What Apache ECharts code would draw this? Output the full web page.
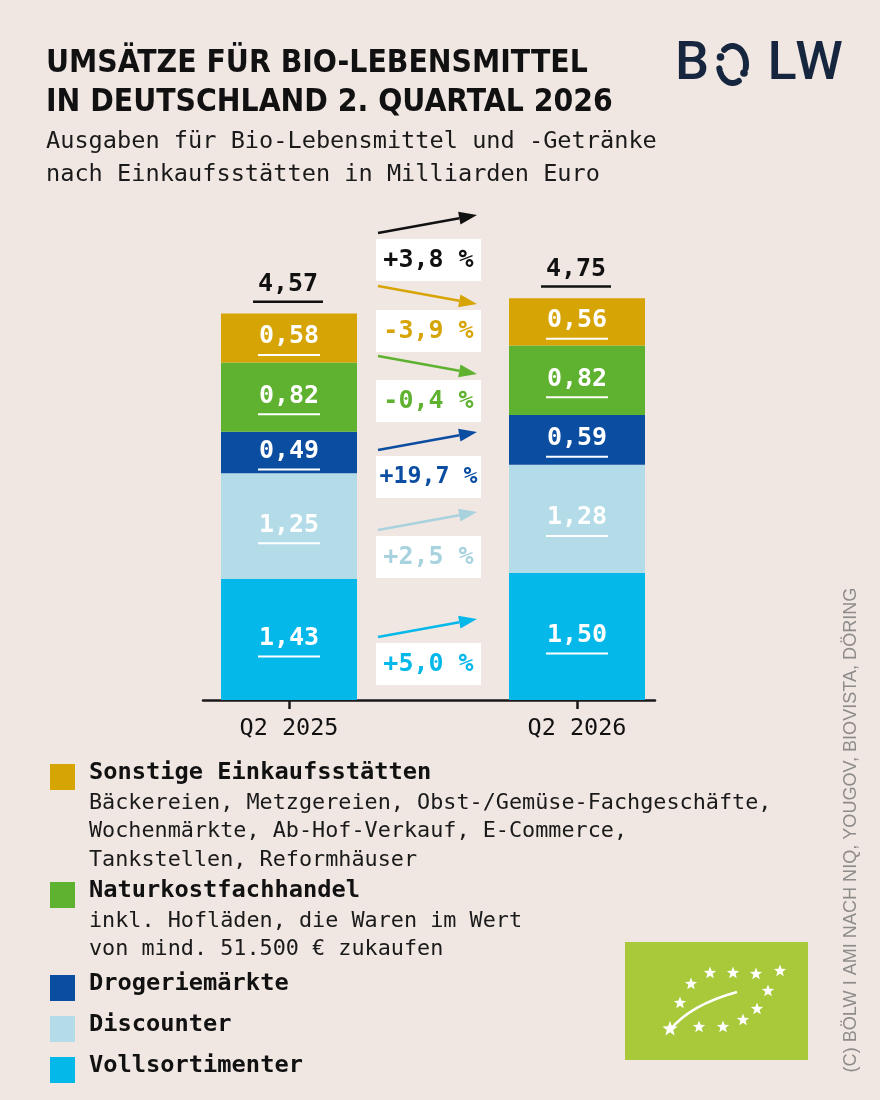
<!DOCTYPE html>
<html><head><meta charset="utf-8">
<script src="https://cdn.jsdelivr.net/npm/echarts@6/dist/echarts.min.js"></script>
<style>html,body{margin:0;padding:0;background:#F0E7E3;}#c{width:880px;height:1100px;}</style>
</head><body><div id="c"></div>
<script>
// ---------------- DATA ----------------
const categories = ['Q2 2025', 'Q2 2026'];
const seriesNames = ['Vollsortimenter', 'Discounter', 'Drogeriemärkte', 'Naturkostfachhandel', 'Sonstige Einkaufsstätten'];
const vollsortimenter = [1.43, 1.50];
const discounter = [1.25, 1.28];
const drogeriemaerkte = [0.49, 0.59];
const naturkostfachhandel = [0.82, 0.82];
const sonstige = [0.58, 0.56];
const totals = [4.57, 4.75];
// change labels: total, Sonstige, Naturkost, Drogerie, Discounter, Vollsortimenter
const changeValues = [3.8, -3.9, -0.4, 19.7, 2.5, 5.0];
const changeLabels = ['+3,8 %', '-3,9 %', '-0,4 %', '+19,7 %', '+2,5 %', '+5,0 %'];
const legendHeadings = ['Sonstige Einkaufsstätten', 'Naturkostfachhandel', 'Drogeriemärkte', 'Discounter', 'Vollsortimenter'];
const legendDescriptions = [
  ['Bäckereien, Metzgereien, Obst-/Gemüse-Fachgeschäfte,', 'Wochenmärkte, Ab-Hof-Verkauf, E-Commerce,', 'Tankstellen, Reformhäuser'],
  ['inkl. Hofläden, die Waren im Wert', 'von mind. 51.500 € zukaufen'],
  [], [], []
];
const titleLines = ['UMSÄTZE FÜR BIO-LEBENSMITTEL', 'IN DEUTSCHLAND 2. QUARTAL 2026'];
const subtitleLines = ['Ausgaben für Bio-Lebensmittel und -Getränke', 'nach Einkaufsstätten in Milliarden Euro'];
const creditText = '(C) BÖLW I AMI NACH NIQ, YOUGOV, BIOVISTA, DÖRING';

// ---------------- STYLE ----------------
const BG = '#F0E7E3';
const C = { voll: '#05B8EA', disc: '#B3DCE8', drog: '#0B4DA0', natur: '#5EB22F', sonst: '#D7A405' };
const seriesColors = [C.voll, C.disc, C.drog, C.natur, C.sonst];
const changeColors = ['#111111', C.sonst, C.natur, C.drog, '#A8D2DE', C.voll];
const legendColors = [C.sonst, C.natur, C.drog, C.disc, C.voll];
const MONO = '"DejaVu Sans Mono", "Liberation Mono", monospace';
const fmt = v => v.toFixed(2).replace('.', ',');

const canvas = document.createElement('canvas');
const ctx = canvas.getContext('2d');
function fitSize(text, weight, family, target) {
  ctx.font = weight + ' 100px ' + family;
  return 100 * target / ctx.measureText(text).width;
}

const seriesData = [vollsortimenter, discounter, drogeriemaerkte, naturkostfachhandel, sonstige];

// segment label positions (centers of stacked segments)
const segLabels = [];
for (let i = 0; i < categories.length; i++) {
  let base = 0;
  for (let s = 0; s < seriesData.length; s++) {
    const v = seriesData[s][i];
    segLabels.push({ x: i, y: base + v / 2, text: fmt(v) });
    base += v;
  }
}

const chart = echarts.init(document.getElementById('c'), null, { renderer: 'canvas' });

const barSeries = seriesNames.map((name, s) => ({
  name, type: 'bar', stack: 'total', barWidth: 136,
  xAxisIndex: 0, yAxisIndex: 0,
  itemStyle: { color: seriesColors[s] },
  data: seriesData[s],
  silent: true, z: 2
}));

const labelSeries = {
  type: 'custom', z: 5, silent: true, xAxisIndex: 0, yAxisIndex: 0,
  data: segLabels.map(d => [d.x, d.y]),
  renderItem(params, api) {
    const p = api.coord([api.value(0), api.value(1)]);
    const t = segLabels[params.dataIndex].text;
    return { type: 'group', children: [
      { type: 'text', x: p[0], y: p[1] - 1, style: { text: t, fill: '#ffffff', font: 'bold 25px ' + MONO, align: 'center', verticalAlign: 'middle' } },
      { type: 'rect', shape: { x: p[0] - 31, y: p[1] + 16, width: 62, height: 2 }, style: { fill: '#ffffff' } }
    ] };
  }
};

const totalSeries = {
  type: 'custom', z: 5, silent: true, xAxisIndex: 0, yAxisIndex: 0,
  data: totals.map((v, i) => [i, v]),
  renderItem(params, api) {
    const p = api.coord([api.value(0), api.value(1)]);
    return { type: 'group', children: [
      { type: 'text', x: p[0] - 1, y: p[1] - 29, style: { text: fmt(api.value(1)), fill: '#111', font: 'bold 25px ' + MONO, align: 'center', verticalAlign: 'middle' } },
      { type: 'rect', shape: { x: p[0] - 36, y: p[1] - 13, width: 70, height: 2.5 }, style: { fill: '#111' } }
    ] };
  }
};

// ---------------- GRAPHIC (annotations, legend, logos) ----------------
const g = [];
const titleSize = fitSize(titleLines[0], 'bold', '"DejaVu Sans Condensed"', 542);
g.push({ type: 'text', x: 46, y: 64, style: { text: titleLines[0], font: 'bold ' + titleSize + 'px "DejaVu Sans Condensed"', fill: '#111', verticalAlign: 'middle' } });
g.push({ type: 'text', x: 46, y: 103, style: { text: titleLines[1], font: 'bold ' + titleSize + 'px "DejaVu Sans Condensed"', fill: '#111', verticalAlign: 'middle' } });
g.push({ type: 'text', x: 46, y: 142, style: { text: subtitleLines[0], font: '23.6px ' + MONO, fill: '#1a1a1a', verticalAlign: 'middle' } });
g.push({ type: 'text', x: 46, y: 175, style: { text: subtitleLines[1], font: '23.6px ' + MONO, fill: '#1a1a1a', verticalAlign: 'middle' } });

// BÖLW logo
const NAVY = '#16263F';
[['B', 692], ['L', 782], ['W', 819]].forEach(([ch, x]) => {
  g.push({ type: 'text', x, y: 65, style: { text: ch, font: '500 54px Roboto', fill: NAVY, align: 'center', verticalAlign: 'middle' } });
});
function arcPts(cx, cy, rx, ry, a0, a1) {
  const pts = [];
  for (let k = 0; k <= 40; k++) { const t = (a0 + (a1 - a0) * k / 40) * Math.PI / 180; pts.push([cx + rx * Math.cos(t), cy + ry * Math.sin(t)]); }
  return pts;
}
g.push({ type: 'polyline', shape: { points: arcPts(732.5, 64.5, 13.5, 18.5, 62, 168) }, style: { stroke: NAVY, lineWidth: 6, fill: null, lineCap: 'round' } });
g.push({ type: 'polyline', shape: { points: arcPts(732.5, 64.5, 13.5, 18.5, 232, 372) }, style: { stroke: NAVY, lineWidth: 6, fill: null, lineCap: 'round' } });
g.push({ type: 'circle', shape: { cx: 720.5, cy: 57, r: 3.8 }, style: { fill: NAVY } });
g.push({ type: 'circle', shape: { cx: 744, cy: 73, r: 3.8 }, style: { fill: NAVY } });

// change arrows and boxes
const boxCenters = [260, 331, 401, 477, 557, 664];
function arrow(x1, y1, x2, y2, color) {
  const a = Math.atan2(y2 - y1, x2 - x1), L = 18, W = 6.5;
  const bx = x2 - L * Math.cos(a), by = y2 - L * Math.sin(a);
  const px = -Math.sin(a) * W, py = Math.cos(a) * W;
  return [
    { type: 'line', shape: { x1, y1, x2: bx, y2: by }, style: { stroke: color, lineWidth: 2.5 } },
    { type: 'polygon', shape: { points: [[x2, y2], [bx + px, by + py], [bx - px, by - py]] }, style: { fill: color } }
  ];
}
changeValues.forEach((v, k) => {
  const c = boxCenters[k], sgn = v >= 0 ? 1 : -1, ac = c - 36;
  g.push(...arrow(378, ac + 9 * sgn, 477, ac - 9 * sgn, changeColors[k]));
  g.push({ type: 'rect', shape: { x: 376, y: c - 21, width: 105, height: 42 }, style: { fill: '#ffffff' } });
  const fs = Math.min(25, fitSize(changeLabels[k], 'bold', MONO, 98));
  g.push({ type: 'text', x: 428.5, y: c, style: { text: changeLabels[k], font: 'bold ' + fs + 'px ' + MONO, fill: changeColors[k], align: 'center', verticalAlign: 'middle' } });
});

// legend
const legendY = [773, 891, 984, 1025, 1066];
legendHeadings.forEach((h, k) => {
  const y = legendY[k];
  g.push({ type: 'rect', shape: { x: 50, y: y - 9, width: 25, height: 26 }, style: { fill: legendColors[k] } });
  g.push({ type: 'text', x: 89, y, style: { text: h, font: 'bold 23.7px ' + MONO, fill: '#111', verticalAlign: 'middle' } });
  legendDescriptions[k].forEach((d, j) => {
    g.push({ type: 'text', x: 89, y: y + 30 + j * 28.5, style: { text: d, font: '21.8px ' + MONO, fill: '#1a1a1a', verticalAlign: 'middle' } });
  });
});

// EU organic logo
g.push({ type: 'rect', shape: { x: 625, y: 942, width: 183, height: 118 }, style: { fill: '#A8C93A' } });
function star(cx, cy, r) {
  const pts = [];
  for (let k = 0; k < 10; k++) { const rr = k % 2 ? r * 0.42 : r; const t = -Math.PI / 2 + k * Math.PI / 5; pts.push([cx + rr * Math.cos(t), cy + rr * Math.sin(t)]); }
  return { type: 'polygon', shape: { points: pts }, style: { fill: '#ffffff' } };
}
[[710, 973], [733, 973], [756, 974], [780, 971], [768, 991], [757, 1009], [743, 1020], [723, 1027], [699, 1027], [680, 1003], [691, 984]].forEach(p => g.push(star(p[0], p[1], 6.5)));
g.push(star(670, 1029, 8));
g.push({ type: 'bezierCurve', shape: { x1: 670, y1: 1030, cpx1: 690, cpy1: 1005, x2: 737, y2: 992 }, style: { stroke: '#ffffff', lineWidth: 2.5, fill: null } });

// credit text (vertical)
const creditSize = fitSize(creditText, 'normal', '"Liberation Sans"', 485);
g.push({ type: 'text', x: 851, y: 830, rotation: Math.PI / 2, style: { text: creditText, font: creditSize + 'px "Liberation Sans"', fill: '#8E8C8B', align: 'center', verticalAlign: 'middle' } });

chart.setOption({
  backgroundColor: BG,
  animation: false,
  grid: [
    { left: 145, right: 159, top: 277, bottom: 400 },   // bars
    { left: 203, right: 225, top: 277, bottom: 400 }    // baseline
  ],
  xAxis: [
    {
      type: 'category', data: categories, gridIndex: 0,
      axisLine: { show: false },
      axisTick: { show: true, alignWithLabel: true, length: 9, lineStyle: { color: '#1a1a1a', width: 2.5 } },
      axisLabel: { show: true, margin: 17, color: '#111', fontFamily: 'DejaVu Sans Mono', fontSize: 23.5 },
      splitLine: { show: false }
    },
    {
      type: 'value', gridIndex: 1, min: 0, max: 1,
      axisLine: { show: true, lineStyle: { color: '#1a1a1a', width: 2.5 } },
      axisTick: { show: false }, axisLabel: { show: false }, splitLine: { show: false }
    }
  ],
  yAxis: [
    { type: 'value', gridIndex: 0, min: 0, max: 5, show: false, splitLine: { show: false } },
    { type: 'value', gridIndex: 1, min: 0, max: 5, show: false, splitLine: { show: false } }
  ],
  series: [...barSeries, labelSeries, totalSeries],
  graphic: g
});
</script></body></html>
